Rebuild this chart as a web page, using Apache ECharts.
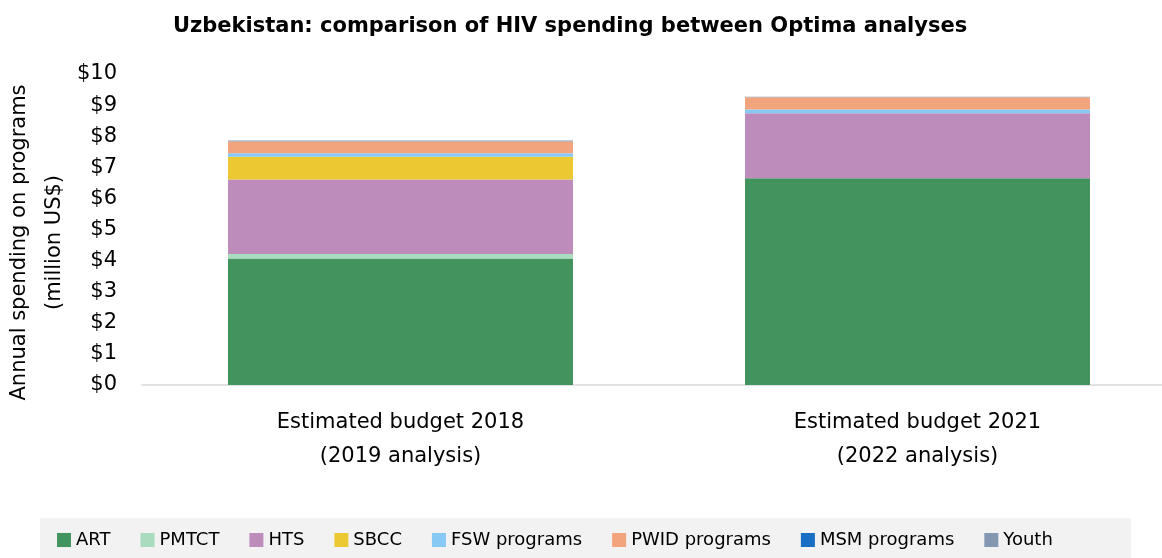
<!DOCTYPE html>
<html>
<head>
<meta charset="utf-8">
<script src="https://cdn.jsdelivr.net/npm/echarts@6/dist/echarts.min.js"></script>
<style>
  html, body { margin: 0; padding: 0; background: #ffffff; }
  #chart { width: 1162px; height: 558px; }
</style>
</head>
<body>
<div id="chart"></div>
<script>
// Budget scenarios compared (one stacked bar each)
const categories = ['Estimated budget 2018\n(2019 analysis)', 'Estimated budget 2021\n(2022 analysis)'];

// Annual spending by program, million US$
const art    = [4.07, 6.65];
const pmtct  = [0.14, 0.00];
const hts    = [2.40, 2.09];
const sbcc   = [0.73, 0.00];
const fsw    = [0.11, 0.12];
const pwid   = [0.38, 0.39];
const msm    = [0.00, 0.00];
const youth  = [0.03, 0.02];

const programNames = ['ART', 'PMTCT', 'HTS', 'SBCC', 'FSW programs', 'PWID programs', 'MSM programs', 'Youth'];
const programValues = [art, pmtct, hts, sbcc, fsw, pwid, msm, youth];
const programColors = ['#42935e', '#a9dbbe', '#bd8cbb', '#ecc933', '#87c9f5', '#f2a47d', '#1a6fc4', '#8497b0'];

const FONT = '"DejaVu Sans", "Open Sans", sans-serif';

const chart = echarts.init(document.getElementById('chart'), null, { renderer: 'canvas' });

chart.setOption({
  animation: false,
  backgroundColor: '#ffffff',
  textStyle: { fontFamily: FONT, color: '#000000' },
  title: {
    text: 'Uzbekistan: comparison of HIV spending between Optima analyses',
    left: 168,
    top: 11,
    textStyle: { fontFamily: FONT, fontSize: 21, fontWeight: 'bold', color: '#000000', lineHeight: 21 }
  },
  // grey band behind the legend
  graphic: [{
    type: 'rect',
    shape: { x: 40, y: 518, width: 1091, height: 60 },
    style: { fill: '#f2f2f2' },
    silent: true,
    z: -1
  }],
  legend: {
    data: programNames,
    left: 57,
    top: 531,
    itemWidth: 14,
    itemHeight: 14,
    itemGap: 30,
    icon: 'rect',
    textStyle: { fontFamily: FONT, fontSize: 18, color: '#000000', lineHeight: 18 },
    padding: 0
  },
  grid: {
    left: 142, right: -14, top: 74, bottom: 173,
    containLabel: false,
    outerBoundsMode: 'none'
  },
  xAxis: {
    type: 'category',
    data: categories,
    axisLine: { show: true, lineStyle: { color: '#d9d9d9', width: 1.5 } },
    axisTick: { show: false },
    axisLabel: { fontFamily: FONT, fontSize: 21, color: '#000000', margin: 21, lineHeight: 34 }
  },
  yAxis: {
    type: 'value',
    min: 0,
    max: 10,
    interval: 1,
    name: 'Annual spending on programs\n(million US$)',
    nameLocation: 'middle',
    nameRotate: 90,
    nameGap: 70,
    nameMoveOverlap: false,
    nameTextStyle: { fontFamily: FONT, fontSize: 21, color: '#000000', lineHeight: 35, padding: [0, 26, 0, 0] },
    axisLine: { show: false },
    axisTick: { show: false },
    splitLine: { show: false },
    axisLabel: {
      fontFamily: FONT, fontSize: 21, color: '#000000', margin: 25,
      formatter: v => '$' + v
    }
  },
  series: programNames.map((name, i) => ({
    name: name,
    type: 'bar',
    stack: 'total',
    barWidth: 345,
    data: programValues[i],
    itemStyle: { color: programColors[i] }
  }))
});
</script>
</body>
</html>
